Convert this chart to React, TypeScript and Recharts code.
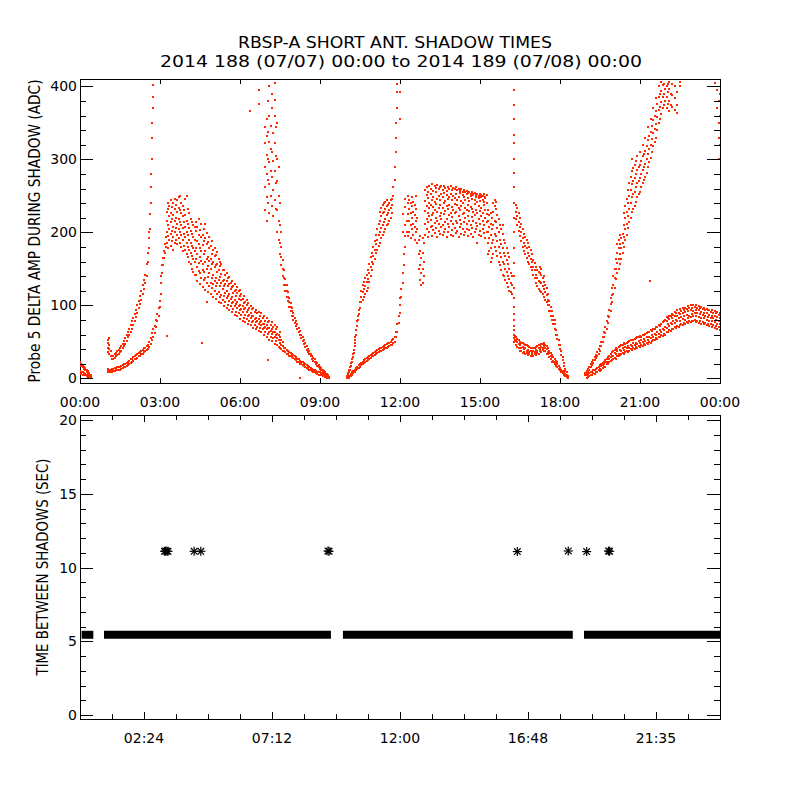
import React from 'react';
import { ScatterChart, Scatter, XAxis, YAxis, ReferenceArea, ComposedChart, Line } from 'recharts';

// ---------------- data (top panel: rows are [hour, value, value, ...]) ----------------
const startOfDay = [
  [0.0, 22, 19, 10, 8], [0.05, 20, 17, 9, 6], [0.1, 18, 15, 8, 5], [0.15, 16, 13, 7, 4],
  [0.2, 14, 11, 6, 4], [0.25, 12, 9, 5, 3], [0.3, 10, 7, 4, 2], [0.35, 7, 5, 2, 1], [0.4, 4, 2],
];

const riseAUpper = [
  [1.05, 36, 42, 48, 52], [1.1, 34, 40, 46, 55], [1.15, 30, 38], [1.2, 27, 31], [1.25, 26, 30],
  [1.3, 28, 33], [1.35, 30, 35], [1.4, 32, 37], [1.45, 34, 39], [1.5, 36, 41], [1.55, 38, 44],
  [1.6, 41, 47], [1.65, 44, 51], [1.7, 47, 55], [1.75, 51, 59], [1.8, 56, 64], [1.85, 60, 68],
  [1.9, 64, 73], [1.95, 68, 78], [2.0, 73, 83], [2.05, 78, 88], [2.1, 84, 94], [2.15, 90, 100],
  [2.2, 96, 106], [2.25, 102, 113], [2.3, 108, 120], [2.35, 115, 128], [2.4, 122, 135],
  [2.45, 130, 142], [2.5, 140, 156], [2.55, 160, 172], [2.6, 178, 192, 200], [2.63, 205, 225],
  [2.66, 240, 262, 280], [2.7, 300, 330, 350], [2.72, 370, 385, 402],
];

const riseALower = [
  [1.05, 8, 11, 13], [1.1, 8, 12], [1.15, 9, 12], [1.2, 9, 13], [1.25, 10, 13], [1.3, 10, 14],
  [1.35, 11, 14], [1.4, 11, 15], [1.45, 12, 15], [1.5, 12, 16], [1.55, 13, 17], [1.6, 14, 18],
  [1.65, 15, 19], [1.7, 16, 20], [1.75, 17, 21], [1.8, 18, 23], [1.85, 20, 24], [1.9, 21, 26],
  [1.95, 23, 27], [2.0, 24, 29], [2.05, 26, 30], [2.1, 27, 32], [2.15, 28, 33], [2.2, 30, 35],
  [2.25, 31, 36], [2.3, 33, 38], [2.35, 34, 39], [2.4, 36, 41], [2.45, 37, 42], [2.5, 39, 44],
  [2.55, 40, 46], [2.6, 43, 50], [2.65, 47, 55], [2.7, 52, 62], [2.75, 57, 67], [2.8, 62, 72],
  [2.85, 70, 80], [2.9, 78, 88], [2.95, 86, 96], [3.0, 98, 106], [3.04, 115, 130, 140],
  [3.08, 145, 155], [3.12, 155, 165], [3.16, 165, 175], [3.2, 172, 184], [3.24, 180, 194],
];

const humpCloud = [
  [3.25, 185, 200, 215, 228], [3.3, 178, 195, 210, 232, 240], [3.35, 190, 205, 222, 236],
  [3.4, 182, 198, 214, 226, 244], [3.45, 188, 202, 218, 235], [3.5, 176, 194, 208, 224, 240],
  [3.55, 186, 200, 216, 232, 246], [3.6, 190, 206, 220, 238], [3.65, 184, 196, 212, 228, 244],
  [3.7, 192, 204, 218, 234, 248], [3.75, 186, 200, 214, 230, 250], [3.8, 180, 196, 210, 226, 240],
  [3.85, 174, 190, 206, 222, 236], [3.9, 182, 198, 214, 230], [3.95, 176, 194, 208, 224, 246],
  [4.0, 170, 186, 200, 216, 250], [4.05, 166, 180, 196, 212, 232], [4.1, 160, 176, 190, 206, 226],
  [4.15, 156, 172, 186, 202, 218], [4.2, 150, 168, 182, 198, 214], [4.25, 146, 164, 178, 194, 210],
  [4.3, 142, 160, 174, 190, 208],
];

const decayCloud = [
  [4.35, 141, 163, 179, 202, 214], [4.4, 133, 152, 171, 188, 207], [4.45, 147, 158, 184, 197, 219],
  [4.5, 129, 144, 166, 179, 203], [4.55, 137, 161, 174, 193, 211], [4.6, 125, 149, 157, 183, 196],
  [4.65, 135, 146, 170, 188, 205], [4.7, 121, 138, 159, 175, 192, 212], [4.75, 131, 150, 163, 184, 199],
  [4.8, 118, 139, 154, 166, 187], [4.85, 127, 144, 161, 179, 193], [4.9, 115, 131, 150, 163, 181],
  [4.95, 124, 137, 157, 171, 188], [5.0, 111, 129, 141, 160, 176], [5.05, 119, 133, 152, 168, 178],
  [5.1, 109, 126, 137, 155, 169], [5.15, 115, 130, 146, 157, 173], [5.2, 105, 118, 135, 149, 163],
  [5.25, 111, 127, 139, 154, 159], [5.3, 103, 114, 131, 143, 157], [5.35, 108, 122, 133, 148],
  [5.4, 99, 113, 126, 135, 149], [5.45, 105, 117, 129, 141], [5.5, 97, 110, 119, 133, 145],
  [5.55, 101, 113, 126, 137], [5.6, 93, 106, 115, 129, 139], [5.65, 99, 109, 122, 131],
  [5.7, 91, 103, 111, 125, 133], [5.75, 95, 105, 117, 127], [5.8, 87, 99, 107, 119, 129],
  [5.85, 91, 102, 113, 121], [5.9, 85, 97, 105, 117, 125], [5.95, 89, 99, 109, 119],
  [6.0, 81, 93, 101, 113, 121], [6.05, 87, 95, 107, 115], [6.1, 79, 91, 99, 109],
  [6.15, 83, 95, 103, 113], [6.2, 77, 87, 97, 105], [6.25, 81, 91, 101, 107], [6.3, 75, 85, 93, 103],
  [6.35, 79, 87, 97], [6.4, 73, 83, 89, 99], [6.45, 77, 85, 95], [6.5, 69, 79, 85, 97],
  [6.55, 73, 81, 91], [6.6, 67, 77, 83, 93], [6.65, 71, 79, 89], [6.7, 65, 75, 81, 91],
  [6.75, 69, 77, 85], [6.8, 63, 73, 79, 89], [6.85, 67, 75, 83], [6.9, 59, 69, 75, 85],
  [6.95, 63, 71, 79], [7.0, 57, 67, 73, 83], [7.05, 61, 69, 77], [7.1, 53, 63, 69, 79],
  [7.15, 57, 65, 73], [7.2, 51, 61, 67, 77], [7.25, 55, 63, 71], [7.3, 47, 57, 63, 73],
  [7.35, 51, 59, 67], [7.4, 45, 55, 61, 71], [7.45, 43, 53, 59], [7.5, 41, 49, 57, 63],
  [7.55, 40, 46, 52], [7.6, 38, 44, 50], [7.65, 37, 42], [7.7, 36, 41], [7.75, 34, 39],
  [7.8, 33, 38], [7.85, 31, 36], [7.9, 30, 35], [7.95, 29, 33], [8.0, 28, 32], [8.05, 26, 30],
  [8.1, 25, 29], [8.15, 23, 27], [8.2, 22, 26], [8.25, 20, 24], [8.3, 19, 23], [8.35, 18, 22],
  [8.4, 17, 21], [8.45, 15, 19], [8.5, 14, 18], [8.55, 13, 17], [8.6, 12, 16], [8.65, 11, 14],
  [8.7, 10, 13], [8.75, 9, 12], [8.8, 8, 11], [8.85, 7, 10], [8.9, 6, 9], [8.95, 5, 8],
  [9.0, 5, 8], [9.05, 4, 7], [9.1, 3, 6], [9.15, 3, 5], [9.2, 2, 4], [9.25, 1, 3], [9.3, 1, 3],
];

const fallBUpper = [
  [6.95, 230, 262, 290, 322, 345], [7.0, 215, 248, 280, 306, 332, 356], [7.05, 240, 272, 300, 338, 380],
  [7.1, 226, 266, 296, 324, 360, 400], [7.15, 250, 284, 314, 346], [7.2, 236, 276, 310, 370, 390],
  [7.25, 222, 258, 298, 336], [7.3, 244, 284, 322, 360, 382, 405], [7.35, 232, 268, 304, 344],
  [7.4, 200, 230, 270, 300, 350], [7.45, 190, 215, 250, 290], [7.5, 170, 186, 210, 240],
  [7.55, 155, 166, 180, 200], [7.6, 140, 150, 162], [7.65, 128, 138, 148], [7.7, 120, 128, 136],
  [7.75, 112, 120, 128], [7.8, 106, 112, 118], [7.85, 98, 104, 110], [7.9, 92, 98, 103],
  [7.95, 86, 92, 97], [8.0, 80, 86, 90], [8.05, 76, 82], [8.1, 72, 78], [8.15, 68, 74],
  [8.2, 64, 69], [8.25, 60, 65], [8.3, 55, 60], [8.35, 51, 56], [8.4, 47, 52], [8.45, 43, 48],
  [8.5, 39, 44], [8.55, 36, 40], [8.6, 33, 37], [8.65, 30, 34], [8.7, 27, 31], [8.75, 24, 28],
  [8.8, 22, 26], [8.85, 20, 23], [8.9, 17, 21], [8.95, 15, 18], [9.0, 13, 16], [9.05, 11, 14],
  [9.1, 9, 12], [9.15, 8, 10], [9.2, 6, 8], [9.25, 4, 6], [9.3, 2, 4], [9.35, 1, 2],
];

const riseCUpper = [
  [10.03, 1, 3], [10.06, 4, 7], [10.1, 8, 11], [10.13, 12, 16], [10.16, 17, 21], [10.2, 23, 27],
  [10.23, 29, 33], [10.26, 35, 39], [10.3, 44, 49], [10.33, 52, 57], [10.36, 60, 66], [10.4, 72, 78],
  [10.43, 80, 86], [10.46, 88, 94], [10.5, 96, 104], [10.55, 104, 112, 120], [10.6, 108, 118, 128],
  [10.65, 112, 122, 132], [10.7, 116, 126, 138], [10.75, 120, 132, 142], [10.8, 124, 136, 148],
  [10.85, 132, 144, 156], [10.9, 140, 152, 166], [10.95, 148, 160, 172], [11.0, 156, 168, 180],
  [11.05, 164, 176, 188], [11.1, 172, 184, 196], [11.15, 176, 190, 204], [11.2, 182, 196, 212],
  [11.25, 186, 200, 216, 228], [11.3, 192, 206, 222, 234], [11.35, 196, 210, 226, 238],
  [11.4, 200, 214, 228, 240], [11.45, 204, 218, 232, 242], [11.5, 210, 224, 236, 244],
  [11.55, 212, 226, 238], [11.6, 216, 230, 240], [11.65, 220, 234, 244], [11.7, 226, 238, 246],
  [11.75, 250, 262], [11.8, 272, 290], [11.85, 310, 330, 350], [11.9, 370, 392, 404],
];

const riseCLower = [
  [10.1, 1, 3], [10.15, 3, 6], [10.2, 5, 8], [10.25, 7, 10], [10.3, 9, 12], [10.35, 11, 14],
  [10.4, 13, 16], [10.45, 14, 18], [10.5, 16, 20], [10.55, 18, 21], [10.6, 19, 23], [10.65, 21, 25],
  [10.7, 22, 26], [10.75, 24, 28], [10.8, 25, 29], [10.85, 27, 31], [10.9, 28, 32], [10.95, 30, 34],
  [11.0, 31, 35], [11.05, 32, 36], [11.1, 33, 37], [11.15, 35, 39], [11.2, 36, 40], [11.25, 37, 41],
  [11.3, 38, 42], [11.35, 39, 43], [11.4, 40, 44], [11.45, 41, 46], [11.5, 42, 47], [11.55, 43, 48],
  [11.6, 44, 49], [11.65, 45, 50], [11.7, 46, 52], [11.75, 48, 54], [11.8, 50, 57], [11.85, 56, 64],
  [11.9, 64, 74], [11.95, 76, 86], [12.0, 90, 100, 110, 356, 393], [12.05, 112, 122], [12.1, 130, 145, 200, 225],
  [12.15, 155, 170], [12.2, 180, 195, 210, 235, 246], [12.25, 200, 215], [12.3, 195, 225, 240, 250],
];

const plateau = [
  [12.35, 200, 215, 232, 244], [12.4, 192, 210, 226, 240], [12.45, 205, 220, 236, 248],
  [12.5, 196, 212, 228, 242], [12.55, 190, 208, 224, 238], [12.6, 200, 216, 232, 250],
  [12.65, 185, 205, 220], [12.7, 150, 170, 190], [12.75, 135, 155, 175, 195], [12.8, 128, 145, 165],
  [12.85, 130, 150, 172, 192], [12.9, 140, 160, 185],
  [12.95, 197, 211, 229, 243, 258], [13.0, 204, 219, 236, 251, 262], [13.05, 193, 214, 226, 247, 255],
  [13.1, 201, 222, 233, 240, 264], [13.15, 208, 217, 238, 253, 260], [13.2, 195, 209, 224, 245, 266],
  [13.25, 203, 227, 235, 249, 257], [13.3, 199, 213, 230, 242, 263], [13.35, 206, 220, 239, 255, 261],
  [13.4, 194, 216, 228, 246, 265], [13.45, 202, 212, 233, 250, 259], [13.5, 198, 223, 237, 244, 262],
  [13.55, 207, 218, 227, 252, 264], [13.6, 196, 210, 234, 248, 258], [13.65, 201, 225, 240, 254, 263],
  [13.7, 205, 214, 229, 243, 261], [13.75, 193, 219, 236, 251, 257], [13.8, 200, 211, 232, 246, 262],
  [13.85, 208, 224, 238, 249, 260], [13.9, 197, 215, 226, 253, 263], [13.95, 203, 221, 235, 244, 258],
  [14.0, 195, 212, 231, 250, 261], [14.05, 206, 226, 239, 247, 259], [14.1, 199, 216, 228, 252, 262],
  [14.15, 202, 213, 237, 245, 258], [14.2, 194, 222, 233, 249, 260], [14.25, 207, 217, 230, 254, 257],
  [14.3, 198, 211, 236, 243, 259], [14.35, 204, 225, 240, 251, 256], [14.4, 196, 214, 227, 248, 258],
  [14.45, 201, 220, 234, 245, 255], [14.5, 205, 212, 231, 252, 257], [14.55, 195, 223, 238, 247, 254],
  [14.6, 203, 216, 229, 243, 256], [14.65, 198, 210, 235, 250, 253], [14.7, 206, 221, 232, 246, 255],
  [14.75, 193, 215, 228, 251, 252], [14.8, 200, 224, 239, 244, 254], [14.85, 204, 213, 230, 248, 251],
  [14.9, 186, 209, 226, 241, 253], [14.95, 197, 219, 236, 247, 250], [15.0, 202, 212, 229, 243, 252],
  [15.05, 195, 222, 234, 249, 251], [15.1, 205, 216, 227, 245, 250], [15.15, 199, 210, 238, 242, 252],
  [15.2, 192, 220, 231, 247, 249], [15.25, 201, 214, 225, 240, 251],
  [15.3, 170, 186, 200, 216, 230], [15.35, 175, 192, 208, 224], [15.4, 160, 178, 196, 212, 226],
  [15.45, 165, 185, 205, 220], [15.5, 170, 190, 210, 228, 240], [15.55, 180, 198, 216, 236, 244],
  [15.6, 175, 195, 214, 232, 242], [15.65, 168, 188, 206, 224], [15.7, 160, 180, 200, 218],
  [15.75, 155, 172, 190, 210], [15.8, 148, 166, 184, 204], [15.85, 142, 160, 178, 198, 210],
  [15.9, 140, 156, 172, 190], [15.95, 135, 150, 168, 185], [16.0, 130, 146, 162, 178],
  [16.05, 125, 140, 156, 172], [16.1, 120, 136, 150, 166], [16.15, 118, 130, 145], [16.2, 115, 128, 140],
];

const streak = [
  [16.28, 395, 374, 356, 334, 322, 300, 282, 262, 240, 220, 200, 178, 158, 140, 124, 110, 98, 88, 80, 72, 66, 60, 55, 50],
];

const fallDUpper = [
  [16.35, 218, 228, 238], [16.4, 210, 222, 234], [16.45, 202, 214, 226], [16.5, 195, 208, 220],
  [16.55, 188, 200, 212], [16.6, 180, 192, 205], [16.65, 175, 186, 198], [16.7, 170, 182, 194],
  [16.75, 165, 178, 190], [16.8, 160, 172, 186], [16.85, 156, 168, 180], [16.9, 152, 164, 176],
  [16.95, 148, 160, 170], [17.0, 142, 152, 162], [17.05, 138, 148, 158], [17.1, 130, 142, 152],
  [17.15, 126, 138, 148], [17.2, 122, 134, 146], [17.25, 120, 132, 144, 152], [17.3, 118, 130, 142, 150],
  [17.35, 116, 126, 138], [17.4, 112, 122, 132, 140], [17.45, 108, 118, 128], [17.5, 104, 114, 124],
  [17.55, 100, 108, 116], [17.6, 92, 100, 106], [17.65, 86, 92, 98], [17.7, 80, 86, 92],
  [17.75, 74, 80, 86], [17.8, 68, 74, 80], [17.85, 60, 66], [17.9, 54, 60], [17.95, 46, 52],
  [18.0, 40, 45], [18.05, 32, 37], [18.1, 25, 29], [18.15, 17, 21], [18.2, 10, 13], [18.25, 5, 8],
  [18.3, 1, 3],
];

const fallDLower = [
  [16.3, 52, 58], [16.35, 46, 51, 57], [16.4, 43, 50, 54], [16.45, 41, 47, 52], [16.5, 38, 45, 50],
  [16.55, 37, 42, 49], [16.6, 35, 43, 48], [16.65, 36, 40, 47], [16.7, 34, 41, 46], [16.75, 35, 38, 45],
  [16.8, 32, 39, 44], [16.85, 33, 36, 43], [16.9, 31, 38, 42], [16.95, 32, 35, 41], [17.0, 30, 37, 41],
  [17.05, 33, 36, 42], [17.1, 32, 39, 43], [17.15, 35, 38, 44], [17.2, 34, 41, 45], [17.25, 37, 40, 46],
  [17.3, 36, 43, 47], [17.35, 39, 42, 47], [17.4, 37, 44, 48], [17.45, 38, 41, 46], [17.5, 34, 40, 44],
  [17.55, 33, 36, 41], [17.6, 29, 35, 38], [17.65, 27, 30, 35], [17.7, 23, 29, 32], [17.75, 22, 24, 29],
  [17.8, 19, 23, 26], [17.85, 17, 21, 24], [17.9, 15, 19, 22], [17.95, 13, 17], [18.0, 11, 14],
  [18.05, 9, 12], [18.1, 7, 10], [18.15, 5, 8], [18.2, 3, 6], [18.25, 2, 4], [18.3, 0, 2],
];

const riseEUpper = [
  [18.95, 4, 7], [19.0, 7, 10], [19.05, 9, 13], [19.1, 12, 16], [19.15, 15, 19], [19.2, 18, 22],
  [19.25, 21, 25], [19.3, 25, 29], [19.35, 28, 32], [19.4, 31, 36], [19.45, 34, 40], [19.5, 38, 44],
  [19.55, 44, 50], [19.6, 50, 56], [19.65, 56, 64], [19.7, 62, 70], [19.75, 68, 78], [19.8, 76, 86],
  [19.85, 84, 94], [19.9, 92, 102, 110], [19.95, 104, 114, 124], [20.0, 116, 128, 140],
  [20.05, 124, 138, 150], [20.1, 136, 150, 164], [20.15, 144, 158, 172, 184], [20.2, 150, 164, 178, 190],
  [20.25, 156, 170, 184, 196], [20.3, 164, 178, 192], [20.35, 172, 186, 198], [20.4, 180, 194, 210, 226],
  [20.45, 190, 204, 220, 236], [20.5, 196, 212, 228, 246], [20.55, 206, 222, 240, 258],
  [20.6, 214, 232, 250, 268], [20.65, 220, 240, 258, 276], [20.7, 228, 248, 266, 284, 300],
  [20.75, 232, 252, 270, 288], [20.8, 236, 256, 274, 292], [20.85, 242, 262, 280, 298],
  [20.9, 248, 268, 286, 304], [20.95, 252, 270, 290], [21.0, 256, 274, 292, 310], [21.05, 262, 280, 298],
  [21.1, 268, 286, 304, 320], [21.15, 272, 290, 308], [21.2, 276, 294, 312, 330], [21.25, 282, 300, 318],
  [21.3, 290, 308, 326, 344], [21.35, 296, 314, 332], [21.4, 302, 320, 338, 356], [21.45, 310, 328, 346],
  [21.5, 318, 336, 354, 370], [21.55, 324, 342, 360], [21.6, 330, 348, 366, 384], [21.65, 340, 358, 376],
  [21.7, 350, 368, 386, 400], [21.75, 356, 372, 390], [21.8, 362, 378, 394, 406], [21.85, 370, 386, 402],
  [21.9, 374, 390, 404], [21.95, 380, 396], [22.0, 370, 386, 400], [22.05, 376, 392, 404],
  [22.1, 366, 380, 396, 406], [22.15, 374, 390], [22.2, 372, 388, 404], [22.3, 368, 384, 400],
  [22.4, 375, 392], [22.5, 400, 406],
];

const riseELower = [
  [19.0, 1, 4], [19.05, 2, 6], [19.1, 3, 7], [19.15, 5, 8], [19.2, 4, 9], [19.25, 7, 11], [19.3, 6, 12],
  [19.35, 9, 13], [19.4, 8, 14], [19.45, 11, 16], [19.5, 10, 13, 18], [19.55, 12, 17, 19], [19.6, 14, 18, 21],
  [19.65, 15, 20, 23], [19.7, 16, 22, 25], [19.75, 19, 23, 27], [19.8, 20, 26, 29], [19.85, 22, 27, 31],
  [19.9, 24, 29, 33], [19.95, 25, 31, 36], [20.0, 27, 31, 37], [20.05, 28, 35, 39], [20.1, 27, 33, 41],
  [20.15, 30, 37, 40], [20.2, 31, 34, 43], [20.25, 32, 39, 44], [20.3, 33, 37, 45], [20.35, 35, 41, 46],
  [20.4, 34, 39, 48], [20.45, 36, 43, 47], [20.5, 37, 41, 49], [20.55, 36, 44, 50], [20.6, 38, 42, 51],
  [20.65, 40, 46, 52], [20.7, 39, 44, 53], [20.75, 41, 48, 52], [20.8, 40, 45, 54], [20.85, 43, 49, 55],
  [20.9, 42, 47, 56], [20.95, 44, 51, 57], [21.0, 43, 48, 58], [21.05, 45, 52, 56], [21.1, 44, 50, 59],
  [21.15, 47, 54, 60], [21.2, 46, 51, 61], [21.25, 48, 56, 62], [21.3, 47, 53, 63], [21.35, 50, 57, 64],
  [21.4, 49, 55, 66], [21.45, 51, 59, 65], [21.5, 52, 57, 67], [21.55, 53, 61, 68], [21.6, 55, 59, 70],
  [21.65, 54, 63, 71], [21.7, 57, 61, 73], [21.75, 56, 66, 72], [21.8, 59, 64, 75], [21.85, 58, 68, 77],
  [21.9, 61, 66, 78], [21.95, 60, 71, 80], [22.0, 63, 69, 79, 84], [22.05, 64, 74, 83], [22.1, 66, 72, 81, 86],
  [22.15, 65, 76, 85], [22.2, 68, 74, 83, 88], [22.25, 67, 78, 87], [22.3, 70, 76, 85, 91], [22.35, 69, 80, 89],
  [22.4, 72, 78, 86, 93], [22.45, 71, 82, 90], [22.5, 73, 79, 88, 95], [22.55, 74, 84, 92], [22.6, 73, 81, 89, 96],
  [22.65, 76, 85, 94], [22.7, 75, 80, 91, 97], [22.75, 77, 87, 95], [22.8, 76, 83, 92, 99], [22.85, 78, 86, 96],
  [22.9, 77, 84, 93, 100], [22.95, 79, 88, 97], [23.0, 78, 85, 92, 101], [23.05, 80, 89, 98],
  [23.1, 77, 86, 94, 100], [23.15, 79, 90, 97], [23.2, 76, 84, 93, 99], [23.25, 78, 88, 96],
  [23.3, 75, 83, 91, 98], [23.35, 77, 87, 95], [23.4, 74, 82, 90, 97], [23.45, 76, 86, 94],
  [23.5, 73, 80, 89, 95], [23.55, 75, 84, 93], [23.6, 72, 79, 87, 94], [23.65, 74, 83, 91],
  [23.7, 70, 78, 86, 93], [23.75, 73, 82, 90], [23.8, 69, 77, 85, 92], [23.85, 72, 80, 89],
  [23.9, 68, 75, 84, 91], [23.95, 70, 79, 87], [24.0, 66, 74, 82, 89],
];

const strays = [
  [3.25, 58], [4.56, 48], [4.75, 104], [7.06, 25], [8.25, 1], [6.37, 366], [6.73, 376, 395],
  [21.37, 133], [22.38, 363], [22.5, 400], [23.8, 405], [23.9, 395, 370], [23.95, 380, 350, 330, 300],
  [24.0, 320, 360, 390],
];

// ---------------- data (bottom panel) ----------------
const BAND_VALUE = 5.44;
const BAND_SEGMENTS = [[0.21, 0.35], [1.05, 9.26], [10.01, 18.33], [19.05, 23.85]];
const LONG_GAPS = [
  [3.17, 11.1], [3.21, 11.12], [3.26, 11.1], [3.3, 11.1], [4.28, 11.1], [4.53, 11.1],
  [9.3, 11.12], [9.34, 11.1], [16.4, 11.08], [18.31, 11.12], [19.0, 11.08], [19.82, 11.12], [19.86, 11.1],
];

// ---------------- axes ----------------
const TOP_X_TICKS = [0, 3, 6, 9, 12, 15, 18, 21, 24];
const TOP_X_LABELS = ['00:00', '03:00', '06:00', '09:00', '12:00', '15:00', '18:00', '21:00', '00:00'];
const TOP_Y_TICKS = [0, 20, 40, 60, 80, 100, 120, 140, 160, 180, 200, 220, 240, 260, 280, 300, 320, 340, 360, 380, 400];
const TOP_Y_MAJOR = [0, 100, 200, 300, 400];
const TOP_Y_DOMAIN = [-6.4, 410.2];

const BOT_X_TICKS = [0, 1.2, 2.4, 3.6, 4.8, 6, 7.2, 8.4, 9.6, 10.8, 12, 13.2, 14.4, 15.6, 16.8, 18, 19.2, 20.4, 21.6, 22.8, 24];
const BOT_X_LABEL_AT = [2.4, 7.2, 12, 16.8, 21.6];
const BOT_X_LABELS = ['02:24', '07:12', '12:00', '16:48', '21:35'];
const BOT_Y_TICKS = [0, 1, 2, 3, 4, 5, 6, 7, 8, 9, 10, 11, 12, 13, 14, 15, 16, 17, 18, 19, 20];
const BOT_Y_MAJOR = [0, 5, 10, 15, 20];
const BOT_Y_DOMAIN = [-0.27, 20.34];

// ---------------- layout & style ----------------
const RED = '#ff2a00';
const FONT = '"DejaVu Sans", Verdana, sans-serif';
const LEFT = 80;
const RIGHT = 720;
const TOP_PANEL = { top: 79, bottom: 383, labelY: 407 };
const BOT_PANEL = { top: 415, bottom: 719, labelY: 743 };

const toPoints = (rows: number[][]) => rows.flatMap(([t, ...vs]) => vs.map((v) => ({ t, v })));
const near = (a: number, b: number) => Math.abs(a - b) < 1e-6;

const topPoints = [
  ...toPoints(startOfDay), ...toPoints(riseAUpper), ...toPoints(riseALower), ...toPoints(humpCloud),
  ...toPoints(decayCloud), ...toPoints(fallBUpper), ...toPoints(riseCUpper), ...toPoints(riseCLower),
  ...toPoints(plateau), ...toPoints(streak), ...toPoints(fallDUpper), ...toPoints(fallDLower),
  ...toPoints(riseEUpper), ...toPoints(riseELower), ...toPoints(strays),
];
const gapPoints = LONG_GAPS.map(([t, v]) => ({ t, v }));

const Dot = (p: any) => (
  <rect x={Math.round(p.cx - 1)} y={Math.round(p.cy - 1)} width={2} height={2} fill={RED} shapeRendering="crispEdges" />
);

const Star = (p: any) => {
  const { cx, cy } = p;
  const r = 4.5;
  const d = 3.3;
  return (
    <g stroke="#000" strokeWidth={1.2}>
      <line x1={cx - r} y1={cy} x2={cx + r} y2={cy} />
      <line x1={cx} y1={cy - r} x2={cx} y2={cy + r} />
      <line x1={cx - d} y1={cy - d} x2={cx + d} y2={cy + d} />
      <line x1={cx - d} y1={cy + d} x2={cx + d} y2={cy - d} />
    </g>
  );
};

const makeXTick = (panel: any, lenFor: (v: number) => number, labelFor: (v: number) => string | null) => (props: any) => {
  const v = props.payload.value;
  const xx = Math.round(props.x) + 0.5;
  const len = lenFor(v);
  const label = labelFor(v);
  return (
    <g>
      <line x1={xx} x2={xx} y1={panel.bottom} y2={panel.bottom - len} stroke="#000" shapeRendering="crispEdges" />
      <line x1={xx} x2={xx} y1={panel.top} y2={panel.top + len} stroke="#000" shapeRendering="crispEdges" />
      {label ? (
        <text x={props.x} y={panel.labelY} textAnchor="middle" fontFamily={FONT} fontSize={14} fill="#000">
          {label}
        </text>
      ) : null}
    </g>
  );
};

const makeYTick = (majors: number[]) => (props: any) => {
  const v = props.payload.value;
  const isMajor = majors.some((m) => near(m, v));
  const len = isMajor ? 13 : 6;
  const yy = Math.round(props.y) + 0.5;
  return (
    <g>
      <line x1={LEFT} x2={LEFT + len} y1={yy} y2={yy} stroke="#000" shapeRendering="crispEdges" />
      <line x1={RIGHT - len} x2={RIGHT} y1={yy} y2={yy} stroke="#000" shapeRendering="crispEdges" />
      {isMajor ? (
        <text x={LEFT - 3} y={props.y} dy={5} textAnchor="end" fontFamily={FONT} fontSize={14} fill="#000">
          {String(v)}
        </text>
      ) : null}
    </g>
  );
};

const topXTick = makeXTick(
  TOP_PANEL,
  () => 5,
  (v) => {
    const i = TOP_X_TICKS.findIndex((t) => near(t, v));
    return i >= 0 ? TOP_X_LABELS[i] : null;
  }
);
const botXTick = makeXTick(
  BOT_PANEL,
  (v) => (BOT_X_LABEL_AT.some((t) => near(t, v)) ? 7 : 5),
  (v) => {
    const i = BOT_X_LABEL_AT.findIndex((t) => near(t, v));
    return i >= 0 ? BOT_X_LABELS[i] : null;
  }
);
const topYTick = makeYTick(TOP_Y_MAJOR);
const botYTick = makeYTick(BOT_Y_MAJOR);

export default function App() {
  const abs: React.CSSProperties = { position: 'absolute', left: 0, top: 0 };
  return (
    <div style={{ position: 'absolute', left: 0, top: 0, width: 800, height: 800, background: '#fff', overflow: 'hidden' }}>
      <div style={abs}>
        <ScatterChart width={800} height={800} margin={{ top: TOP_PANEL.top, right: 800 - RIGHT, left: LEFT - 60, bottom: 800 - TOP_PANEL.bottom - 30 }}>
          <XAxis type="number" dataKey="t" domain={[0, 24]} ticks={TOP_X_TICKS} interval={0} allowDataOverflow
            axisLine={false} tickLine={false} tick={topXTick} height={30} />
          <YAxis type="number" dataKey="v" domain={TOP_Y_DOMAIN} ticks={TOP_Y_TICKS} interval={0} allowDataOverflow
            axisLine={false} tickLine={false} tick={topYTick} width={60} />
          <Scatter data={topPoints} shape={Dot} isAnimationActive={false} />
          <ReferenceArea x1={0} x2={24} y1={TOP_Y_DOMAIN[0]} y2={TOP_Y_DOMAIN[1]} fill="none" fillOpacity={0}
            stroke="#000" strokeWidth={1} ifOverflow="visible" shapeRendering="crispEdges" />
        </ScatterChart>
      </div>
      <div style={abs}>
        <ComposedChart width={800} height={800} margin={{ top: BOT_PANEL.top, right: 800 - RIGHT, left: LEFT - 60, bottom: 800 - BOT_PANEL.bottom - 30 }}>
          <XAxis type="number" dataKey="t" domain={[0, 24]} ticks={BOT_X_TICKS} interval={0} allowDataOverflow
            axisLine={false} tickLine={false} tick={botXTick} height={30} />
          <YAxis type="number" dataKey="v" domain={BOT_Y_DOMAIN} ticks={BOT_Y_TICKS} interval={0} allowDataOverflow
            axisLine={false} tickLine={false} tick={botYTick} width={60} />
          {BAND_SEGMENTS.map(([a, b], i) => (
            <Line key={i} data={[{ t: a, v: BAND_VALUE }, { t: b, v: BAND_VALUE }]} dataKey="v" type="linear"
              stroke="#000" strokeWidth={8} strokeLinecap="square" dot={false} activeDot={false} isAnimationActive={false} />
          ))}
          <Scatter data={gapPoints} dataKey="v" shape={Star} isAnimationActive={false} />
          <ReferenceArea x1={0} x2={24} y1={BOT_Y_DOMAIN[0]} y2={BOT_Y_DOMAIN[1]} fill="none" fillOpacity={0}
            stroke="#000" strokeWidth={1} ifOverflow="visible" shapeRendering="crispEdges" />
        </ComposedChart>
      </div>
      <svg width={800} height={800} style={{ ...abs, pointerEvents: 'none' }}>
        <g fontFamily={FONT} fill="#000">
          <text x={395} y={47.5} textAnchor="middle" fontSize={16.5} textLength={314} lengthAdjust="spacingAndGlyphs">
            RBSP-A SHORT ANT. SHADOW TIMES
          </text>
          <text x={401} y={67} textAnchor="middle" fontSize={16.5} textLength={482} lengthAdjust="spacingAndGlyphs">
            2014 188 (07/07) 00:00 to 2014 189 (07/08) 00:00
          </text>
          <text transform="translate(39.5,231) rotate(-90)" textAnchor="middle" fontSize={16.5} textLength={303} lengthAdjust="spacingAndGlyphs">
            Probe 5 DELTA AMP DURING SHADOW (ADC)
          </text>
          <text transform="translate(48.3,567) rotate(-90)" textAnchor="middle" fontSize={16.5} textLength={217} lengthAdjust="spacingAndGlyphs">
            TIME BETWEEN SHADOWS (SEC)
          </text>
        </g>
      </svg>
    </div>
  );
}
